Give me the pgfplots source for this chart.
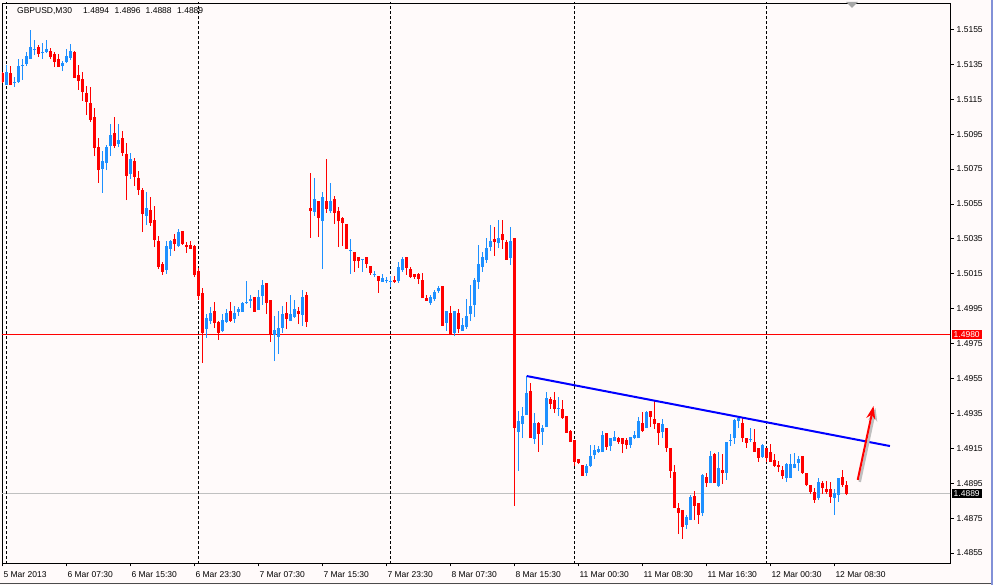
\documentclass[border=0pt]{standalone}
\usepackage{fontspec}
\setmainfont{Liberation Sans}
\usepackage{pgfplots}
\usepackage{pgfplotstable}
\pgfplotsset{compat=1.18}
\usetikzlibrary{arrows.meta}
\definecolor{snow}{RGB}{255,250,250}
\definecolor{bull}{RGB}{30,144,255}
\definecolor{bear}{RGB}{255,0,0}
\definecolor{bidgray}{RGB}{192,192,192}
\definecolor{winblue}{RGB}{130,145,215}

\pgfplotstableread{
k o h l c
0 1.51231 1.51346 1.51231 1.51306
2 1.51243 1.51277 1.51220 1.51248
3 1.51248 1.51380 1.51243 1.51340
4 1.51340 1.51380 1.51260 1.51346
5 1.51351 1.51420 1.51340 1.51397
6 1.51380 1.51546 1.51380 1.51449
7 1.51432 1.51489 1.51403 1.51437
9 1.51414 1.51472 1.51380 1.51420
10 1.51420 1.51489 1.51414 1.51437
14 1.51340 1.51369 1.51311 1.51357
15 1.51363 1.51437 1.51357 1.51397
16 1.51386 1.51466 1.51374 1.51426
24 1.50750 1.50853 1.50613 1.50796
25 1.50784 1.50887 1.50744 1.50876
26 1.50882 1.51008 1.50824 1.50945
28 1.50893 1.51008 1.50876 1.50916
31 1.50721 1.50842 1.50693 1.50807
35 1.50481 1.50618 1.50429 1.50527
40 1.50171 1.50338 1.50149 1.50309
41 1.50292 1.50343 1.50252 1.50338
43 1.50309 1.50406 1.50303 1.50389
50 1.49834 1.49919 1.49782 1.49897
51 1.49879 1.49960 1.49862 1.49925
54 1.49822 1.49919 1.49816 1.49885
55 1.49874 1.49948 1.49868 1.49925
57 1.49891 1.49965 1.49868 1.49925
58 1.49931 1.49960 1.49908 1.49948
59 1.49931 1.49988 1.49931 1.49982
60 1.49982 1.50108 1.49977 1.49988
61 1.49994 1.50028 1.49954 1.50005
63 1.49942 1.50057 1.49942 1.50017
64 1.50023 1.50114 1.49971 1.50086
67 1.49799 1.49908 1.49650 1.49828
68 1.49788 1.49937 1.49690 1.49839
69 1.49839 1.49965 1.49811 1.49919
71 1.49879 1.50028 1.49879 1.49919
72 1.49902 1.50000 1.49897 1.49948
74 1.49914 1.50057 1.49851 1.50017
77 1.50504 1.50698 1.50481 1.50578
79 1.50452 1.50618 1.50177 1.50590
81 1.50509 1.50670 1.50498 1.50567
86 1.50280 1.50349 1.50149 1.50286
89 1.50229 1.50234 1.50160 1.50234
92 1.50143 1.50166 1.50131 1.50149
94 1.50103 1.50149 1.50103 1.50126
95 1.50108 1.50131 1.50097 1.50114
96 1.50103 1.50137 1.50074 1.50108
98 1.50108 1.50217 1.50097 1.50189
99 1.50171 1.50246 1.50160 1.50234
106 1.49982 1.50028 1.49971 1.50017
107 1.50005 1.50057 1.49994 1.50045
108 1.50051 1.50080 1.50040 1.50068
110 1.49868 1.49937 1.49822 1.49937
112 1.49811 1.49937 1.49793 1.49937
114 1.49822 1.49897 1.49822 1.49856
115 1.49845 1.50005 1.49834 1.49908
116 1.49919 1.50086 1.49879 1.49965
117 1.49971 1.50126 1.49902 1.50114
118 1.50103 1.50315 1.50063 1.50206
119 1.50189 1.50275 1.50160 1.50246
120 1.50229 1.50355 1.50212 1.50297
121 1.50303 1.50429 1.50280 1.50338
123 1.50326 1.50458 1.50297 1.50355
126 1.50240 1.50418 1.50200 1.50338
128 1.49244 1.49364 1.49020 1.49307
129 1.49289 1.49387 1.49209 1.49335
130 1.49341 1.49564 1.49341 1.49467
132 1.49203 1.49352 1.49175 1.49295
134 1.49244 1.49284 1.49169 1.49266
135 1.49272 1.49473 1.49272 1.49438
138 1.49375 1.49444 1.49335 1.49381
145 1.49009 1.49060 1.48992 1.49049
146 1.49049 1.49169 1.49043 1.49106
147 1.49112 1.49169 1.49089 1.49140
148 1.49129 1.49163 1.49123 1.49146
149 1.49129 1.49249 1.49129 1.49226
151 1.49163 1.49209 1.49135 1.49209
152 1.49192 1.49249 1.49192 1.49215
156 1.49169 1.49215 1.49152 1.49215
157 1.49209 1.49249 1.49203 1.49226
158 1.49209 1.49329 1.49209 1.49307
160 1.49266 1.49364 1.49266 1.49358
164 1.49244 1.49318 1.49209 1.49289
170 1.48711 1.48768 1.48688 1.48757
171 1.48739 1.48883 1.48739 1.48871
174 1.48780 1.49003 1.48762 1.48997
176 1.48951 1.49135 1.48951 1.49106
178 1.48934 1.49129 1.48929 1.49037
180 1.49009 1.49186 1.48969 1.49186
181 1.49192 1.49232 1.49163 1.49198
182 1.49209 1.49318 1.49175 1.49312
183 1.49307 1.49324 1.49266 1.49324
186 1.49198 1.49266 1.49186 1.49203
189 1.49100 1.49175 1.49095 1.49169
195 1.48980 1.49066 1.48957 1.49060
196 1.48980 1.49118 1.48980 1.49060
197 1.49037 1.49123 1.49037 1.49060
198 1.49066 1.49106 1.49020 1.49089
203 1.48865 1.48980 1.48854 1.48957
207 1.48865 1.48917 1.48768 1.48894
208 1.48883 1.48980 1.48843 1.48980
}\bulltab

\pgfplotstableread{
k o h l c
-1 1.51300 1.51306 1.51243 1.51248
1 1.51300 1.51340 1.51231 1.51231
8 1.51449 1.51460 1.51391 1.51409
11 1.51426 1.51443 1.51380 1.51391
12 1.51409 1.51420 1.51334 1.51363
13 1.51380 1.51409 1.51334 1.51334
17 1.51420 1.51426 1.51271 1.51271
18 1.51288 1.51346 1.51203 1.51254
19 1.51265 1.51306 1.51140 1.51191
20 1.51185 1.51225 1.51059 1.51134
21 1.51128 1.51220 1.51019 1.51031
22 1.51048 1.51099 1.50824 1.50870
23 1.50876 1.50928 1.50670 1.50744
27 1.50956 1.51048 1.50870 1.50882
29 1.50928 1.50968 1.50824 1.50842
30 1.50836 1.50899 1.50572 1.50710
32 1.50796 1.50813 1.50653 1.50704
33 1.50698 1.50739 1.50601 1.50630
34 1.50630 1.50641 1.50389 1.50492
36 1.50515 1.50590 1.50424 1.50441
37 1.50458 1.50538 1.50303 1.50343
38 1.50338 1.50366 1.50177 1.50189
39 1.50206 1.50217 1.50143 1.50160
42 1.50349 1.50378 1.50280 1.50320
44 1.50395 1.50395 1.50315 1.50320
45 1.50315 1.50332 1.50269 1.50303
46 1.50315 1.50338 1.50292 1.50292
47 1.50309 1.50315 1.50131 1.50143
48 1.50166 1.50183 1.50000 1.50023
49 1.50040 1.50068 1.49639 1.49811
52 1.49937 1.49988 1.49839 1.49868
53 1.49874 1.49879 1.49771 1.49811
56 1.49937 1.49988 1.49874 1.49879
62 1.50017 1.50017 1.49931 1.49931
65 1.50097 1.50097 1.49919 1.49982
66 1.50000 1.50000 1.49759 1.49799
70 1.49925 1.49988 1.49834 1.49891
73 1.49937 1.49960 1.49862 1.49919
75 1.50028 1.50045 1.49845 1.49874
76 1.50527 1.50727 1.50355 1.50509
78 1.50567 1.50567 1.50360 1.50469
80 1.50567 1.50807 1.50498 1.50521
82 1.50578 1.50595 1.50435 1.50498
83 1.50509 1.50532 1.50303 1.50452
84 1.50469 1.50475 1.50309 1.50441
85 1.50435 1.50435 1.50292 1.50292
87 1.50275 1.50275 1.50160 1.50223
88 1.50246 1.50246 1.50183 1.50223
90 1.50246 1.50246 1.50183 1.50206
91 1.50194 1.50194 1.50143 1.50154
93 1.50137 1.50137 1.50040 1.50108
97 1.50114 1.50137 1.50097 1.50103
100 1.50246 1.50246 1.50143 1.50183
101 1.50177 1.50189 1.50126 1.50131
102 1.50149 1.50149 1.50120 1.50131
103 1.50149 1.50154 1.50091 1.50120
104 1.50114 1.50154 1.50011 1.50011
105 1.50011 1.50028 1.49994 1.49994
109 1.50080 1.50080 1.49851 1.49851
111 1.49925 1.49965 1.49799 1.49799
113 1.49925 1.49948 1.49811 1.49834
122 1.50349 1.50418 1.50252 1.50332
124 1.50378 1.50458 1.50292 1.50343
125 1.50332 1.50343 1.50229 1.50229
127 1.50355 1.50355 1.48820 1.49266
131 1.49478 1.49524 1.49209 1.49209
133 1.49295 1.49301 1.49129 1.49232
136 1.49433 1.49444 1.49375 1.49404
137 1.49427 1.49473 1.49352 1.49375
139 1.49375 1.49427 1.49318 1.49324
140 1.49335 1.49335 1.49238 1.49238
141 1.49249 1.49255 1.49186 1.49186
142 1.49198 1.49198 1.49049 1.49072
143 1.49089 1.49089 1.49060 1.49066
144 1.49055 1.49055 1.48992 1.48992
150 1.49238 1.49238 1.49140 1.49158
153 1.49209 1.49215 1.49175 1.49186
154 1.49209 1.49209 1.49123 1.49175
155 1.49198 1.49209 1.49146 1.49169
159 1.49295 1.49358 1.49244 1.49249
161 1.49364 1.49364 1.49272 1.49329
162 1.49318 1.49421 1.49261 1.49289
163 1.49295 1.49295 1.49169 1.49238
165 1.49266 1.49266 1.49129 1.49152
166 1.49152 1.49152 1.48980 1.49020
167 1.49014 1.49055 1.48808 1.48808
168 1.48808 1.48837 1.48659 1.48780
169 1.48797 1.48797 1.48631 1.48699
172 1.48877 1.48906 1.48739 1.48820
173 1.48837 1.48837 1.48717 1.48768
175 1.48986 1.49009 1.48929 1.48951
177 1.49118 1.49123 1.48951 1.48951
179 1.49026 1.49118 1.48946 1.49009
184 1.49295 1.49324 1.49186 1.49209
185 1.49209 1.49209 1.49152 1.49180
187 1.49186 1.49261 1.49129 1.49129
188 1.49152 1.49152 1.49072 1.49095
190 1.49152 1.49152 1.49072 1.49095
191 1.49129 1.49175 1.49072 1.49072
192 1.49083 1.49118 1.49043 1.49049
193 1.49055 1.49077 1.49014 1.49043
194 1.49026 1.49049 1.48974 1.48992
199 1.49106 1.49106 1.49003 1.49009
200 1.49009 1.49009 1.48934 1.48940
201 1.48940 1.48940 1.48888 1.48900
202 1.48900 1.48923 1.48837 1.48854
204 1.48951 1.48963 1.48888 1.48923
205 1.48917 1.48963 1.48888 1.48900
206 1.48917 1.48957 1.48837 1.48871
209 1.48986 1.49026 1.48929 1.48940
210 1.48940 1.48960 1.48880 1.48890
}\beartab

\begin{document}
\begin{tikzpicture}[x=1pt,y=1pt]
\fill[snow] (0,0) rectangle (993,585);
\path[use as bounding box] (0,0) rectangle (993,585);
\begin{axis}[
  at={(2pt,22pt)}, anchor=south west,
  scale only axis, width=948pt, height=560pt,
  xmin=-1.075, xmax=235.925, ymin=1.48493, ymax=1.51701,
  axis background/.style={fill=snow},
  axis line style={black, line width=0.9pt},
  font=\fontsize{8.5}{10}\selectfont,
  xtick={-1,15,31,47,63,79,95,111,127,143,159,175,191,207},
  xticklabels={5 Mar 2013, 6 Mar 07:30, 6 Mar 15:30, 6 Mar 23:30, 7 Mar 07:30, 7 Mar 15:30, 7 Mar 23:30, 8 Mar 07:30, 8 Mar 15:30, 11 Mar 00:30, 11 Mar 08:30, 11 Mar 16:30, 12 Mar 00:30, 12 Mar 08:30},
  ytick={1.4855,1.4875,1.4895,1.4915,1.4935,1.4955,1.4975,1.4995,1.5015,1.5035,1.5055,1.5075,1.5095,1.5115,1.5135,1.5155},
  yticklabels={1.4855,1.4875,1.4895,1.4915,1.4935,1.4955,1.4975,1.4995,1.5015,1.5035,1.5055,1.5075,1.5095,1.5115,1.5135,1.5155},
  scaled y ticks=false,
  xtick pos=bottom, ytick pos=right, yticklabel pos=right,
  tick align=outside, major tick length=3.5pt,
  tick style={black, line width=0.8pt},
  xticklabel style={anchor=base west, inner sep=0pt, xshift=1pt, yshift=-11pt},
  yticklabel style={anchor=west, inner sep=0pt, xshift=3pt},
  candle/.style={draw=none, mark=none, forget plot, error bars/.cd, y dir=plus, y explicit, error mark=none},
]
% horizontal price lines
\addplot[bear, line width=0.8pt, forget plot] coordinates {(-2,1.4980) (240,1.4980)};
\addplot[bidgray, line width=0.8pt, forget plot] coordinates {(-2,1.4889) (240,1.4889)};
% day separators
\addplot[black, line width=0.9pt, dash pattern=on 3pt off 2pt, forget plot] coordinates {(0,1.48) (0,1.52)};
\addplot[black, line width=0.9pt, dash pattern=on 3pt off 2pt, forget plot] coordinates {(48,1.48) (48,1.52)};
\addplot[black, line width=0.9pt, dash pattern=on 3pt off 2pt, forget plot] coordinates {(96,1.48) (96,1.52)};
\addplot[black, line width=0.9pt, dash pattern=on 3pt off 2pt, forget plot] coordinates {(142,1.48) (142,1.52)};
\addplot[black, line width=0.9pt, dash pattern=on 3pt off 2pt, forget plot] coordinates {(190,1.48) (190,1.52)};
% wicks
\addplot[candle, error bar style={draw=bull, solid, line width=1pt}]
  table[x=k, y=l, y error plus expr={\thisrow{h}-\thisrow{l}}] {\bulltab};
\addplot[candle, error bar style={draw=bear, solid, line width=1pt}]
  table[x=k, y=l, y error plus expr={\thisrow{h}-\thisrow{l}}] {\beartab};
% bodies
\addplot[candle, error bar style={draw=bull, solid, line width=3pt}]
  table[x=k, y=o, y error plus expr={\thisrow{c}-\thisrow{o}}] {\bulltab};
\addplot[candle, error bar style={draw=bear, solid, line width=3pt}]
  table[x=k, y=c, y error plus expr={\thisrow{o}-\thisrow{c}}] {\beartab};
% trend line
\addplot[blue, line width=2pt, forget plot] coordinates {(130.1,1.49564) (220.9,1.49163)};
% arrow with shadow
\addplot[black!25, line width=2.5pt, -{Stealth[length=13pt,width=9pt]}, forget plot, xshift=2pt, yshift=-2pt] coordinates {(212.85,1.48969) (216.8,1.49392)};
\addplot[bear, line width=2pt, -{Stealth[length=13pt,width=9pt]}, forget plot] coordinates {(212.85,1.48969) (216.8,1.49392)};
\coordinate (pr) at (axis cs:235.925,1.4980);
\coordinate (pb) at (axis cs:235.925,1.4889);
\end{axis}
% price boxes
\node[fill=bear, text=white, anchor=west, inner xsep=2pt, inner ysep=1.5pt, text height=6.3pt, text depth=0pt, font=\fontsize{8.5}{10}\selectfont] at ([xshift=1.5pt]pr) {1.4980};
\node[fill=black, text=white, anchor=west, inner xsep=2pt, inner ysep=1.5pt, text height=6.3pt, text depth=0pt, font=\fontsize{8.5}{10}\selectfont] at ([xshift=1.5pt]pb) {1.4889};
% title
\begin{scope}[font=\fontsize{8.5}{10}\selectfont]
\node[anchor=base west, inner sep=0pt] at (17,571.7) {GBPUSD,M30};
\node[anchor=base west, inner sep=0pt] at (83,571.7) {1.4894};
\node[anchor=base west, inner sep=0pt] at (114.5,571.7) {1.4896};
\node[anchor=base west, inner sep=0pt] at (145.5,571.7) {1.4888};
\node[anchor=base west, inner sep=0pt] at (177,571.7) {1.4889};
\end{scope}
% shift marker
\fill[black!35] (846,583) -- (858,583) -- (852,577) -- cycle;
% window borders
\draw[black!70, line width=1pt] (0,1.5) -- (993,1.5);
\draw[winblue, line width=2pt] (992,0) -- (992,585);
\end{tikzpicture}
\end{document}
